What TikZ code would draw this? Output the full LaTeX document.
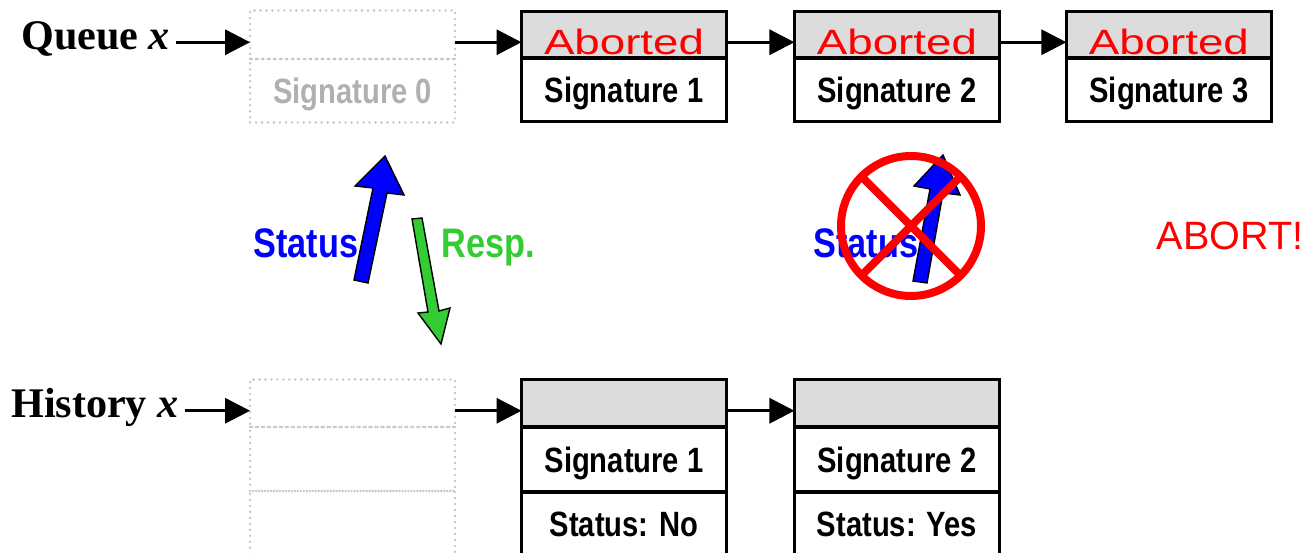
\documentclass[tikz,border=0pt]{standalone}
\usepackage{fontspec}
\setmainfont{Liberation Serif}
\newfontfamily\narrowsf[FakeStretch=0.83]{Liberation Sans}
\newfontfamily\widesf[FakeStretch=1.3]{Liberation Sans}
\newfontfamily\plainsf{Liberation Sans}
\usetikzlibrary{positioning,calc,arrows.meta}
\definecolor{headgray}{RGB}{220,220,220}
\definecolor{ghostgray}{RGB}{195,195,195}
\definecolor{ghosttext}{RGB}{176,176,176}
\definecolor{respgreen}{RGB}{51,204,51}
\tikzset{
	cell/.style={draw, line width=2pt, minimum width=4.1cm, inner sep=0pt, outer sep=0pt, text depth=0pt},
	headcell/.style={cell, fill=headgray, minimum height=0.93cm, text height=0.8cm, text depth=0cm, text=red, font=\widesf\fontsize{20}{24}\selectfont},
	sigcell/.style={cell, minimum height=1.27cm, font=\narrowsf\bfseries\fontsize{20}{24}\selectfont},
	ghost/.style={draw=ghostgray, dash pattern=on 0pt off 3.4pt, line cap=round, line width=1.5pt, minimum width=4.1cm, inner sep=0pt, outer sep=0pt, text depth=0pt, text=ghosttext, font=\narrowsf\bfseries\fontsize{20}{24}\selectfont},
	ptr/.style={line width=1.8pt, -{Triangle[length=0.5cm, width=0.5cm]}},
	fat/.style={draw=black, line width=0.8pt, line join=miter},
	nosign/.style={red, line width=0.16cm},
	lbl/.style={font=\bfseries\fontsize{24}{28}\selectfont},
	msg/.style={anchor=base, font=\narrowsf\bfseries\fontsize{23.5}{28}\selectfont}
}

\begin{document}
\begin{tikzpicture}[x=0.02cm, y=-0.02cm]
			%%%%% START %%%%%
			\useasboundingbox (0,0) rectangle (1312,553);
			
			% queue
			\node[headcell] (q1top) at (624,34.75) {Aborted};
			\node[sigcell, below=0pt of q1top] (q1sig) {Signature 1};
			\node[headcell, right=1.36cm of q1top] (q2top) {Aborted};
			\node[sigcell, below=0pt of q2top] (q2sig) {Signature 2};
			\node[headcell, right=1.34cm of q2top] (q3top) {Aborted};
			\node[sigcell, below=0pt of q3top] (q3sig) {Signature 3};
			
			\node[ghost, minimum height=0.97cm, left=1.33cm of q1top] (q0top) {};
			\node[ghost, minimum height=1.27cm, below=0pt of q0top] (q0sig) {Signature 0};
			
			\node[lbl, anchor=base west] (qlabel) at (15,50) {Queue \textit{x}};
			
			\coordinate (qin) at ([yshift=-0.15cm]q0top.west);
			\draw[ptr] (qlabel.east |- qin) -- (qin);
			\draw[ptr] ([yshift=-0.15cm]q0top.east) -- ([yshift=-0.15cm]q1top.west);
			\draw[ptr] ([yshift=-0.15cm]q1top.east) -- ([yshift=-0.15cm]q2top.west);
			\draw[ptr] ([yshift=-0.15cm]q2top.east) -- ([yshift=-0.15cm]q3top.west);
			
			% history
			\node[headcell, minimum height=0.95cm] (h1top) at (624,403.25) {};
			\node[sigcell, minimum height=1.3cm, below=0pt of h1top] (h1sig) {Signature 1};
			\node[sigcell, minimum height=1.3cm, below=0pt of h1sig] (h1st) {Status: No};
			\node[headcell, minimum height=0.95cm, right=1.36cm of h1top] (h2top) {};
			\node[sigcell, minimum height=1.3cm, below=0pt of h2top] (h2sig) {Signature 2};
			\node[sigcell, minimum height=1.3cm, below=0pt of h2sig] (h2st) {Status: Yes};
			
			\node[ghost, minimum height=0.95cm, left=1.33cm of h1top] (h0top) {};
			\node[ghost, minimum height=1.28cm, below=0pt of h0top] (h0sig) {};
			\node[ghost, minimum height=1.3cm, below=0pt of h0sig] (h0st) {};
			
			\node[lbl, anchor=base west] (hlabel) at (5,418) {History \textit{x}};
			
			\coordinate (hin) at ([yshift=-0.15cm]h0top.west);
			\draw[ptr] (hlabel.east |- hin) -- (hin);
			\draw[ptr] ([yshift=-0.15cm]h0top.east) -- ([yshift=-0.15cm]h1top.west);
			\draw[ptr] ([yshift=-0.15cm]h1top.east) -- ([yshift=-0.15cm]h2top.west);
			
			% status / response
			\node[msg, blue] (stat1) at (306,258) {Status};
			\node[msg, respgreen] (resp1) at (488,258) {Resp.};
			\draw[fat, fill=blue] (368,283) -- (387,193) -- (404,195) -- (385,156) -- (355,186) -- (373,188) -- (354,280) -- cycle;
			\draw[fat, fill=respgreen] (412,219) -- (422,218) -- (439,311) -- (450,308) -- (441,344) -- (418,313) -- (428,312) -- cycle;
			
			% blocked status
			\node[msg, blue] (stat2) at (866,258) {Status};
			\draw[fat, fill=blue] (927,283) -- (943,193) -- (960,195) -- (943,155) -- (914,186) -- (930,189) -- (913,281) -- cycle;
			\draw[nosign] (911,226) circle (70);
			\draw[nosign] (861,176) -- (961,276);
			\draw[nosign] (961,176) -- (861,276);
			
			\node[anchor=base, red, font=\plainsf\fontsize{22.5}{26}\selectfont] (abort) at (1230,250) {ABORT!};
			
			%%%%% END %%%%%
		\end{tikzpicture}
\end{document}
